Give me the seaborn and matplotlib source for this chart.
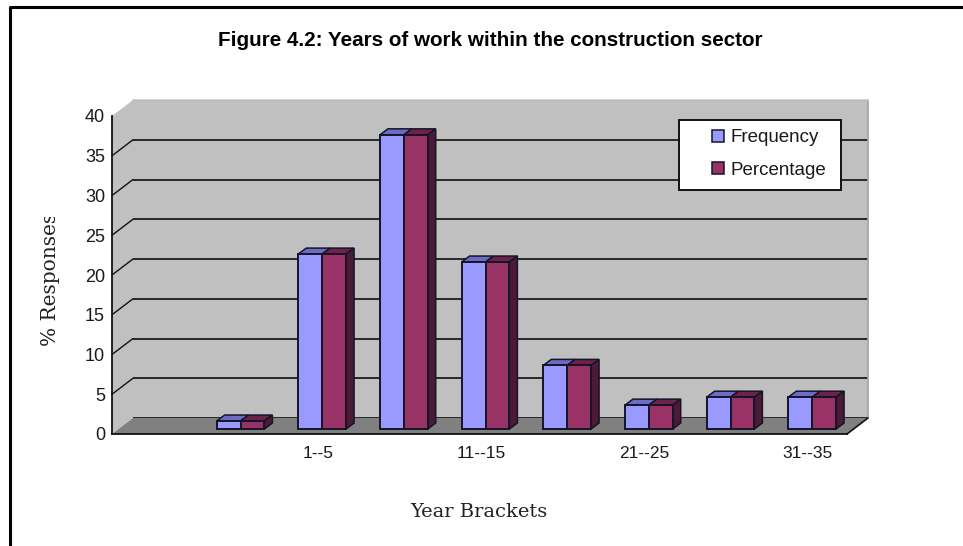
import matplotlib
matplotlib.use('Agg')
import matplotlib.pyplot as plt
from matplotlib.patches import Polygon, Rectangle, Patch
from matplotlib.lines import Line2D
from matplotlib.transforms import Affine2D, IdentityTransform, Bbox
import numpy as np
import pandas as pd
import seaborn as sns

categories = ['0', '<1', '1--5', '6--10', '11--15', '16--20', '21--25', '26--30', '31--35']
tick_labels = ['', '', '1--5', '', '11--15', '', '21--25', '', '31--35']
frequency = [np.nan, 1, 22, 37, 21, 8, 3, 4, 4]
percentage = [np.nan, 1, 22, 37, 21, 8, 3, 4, 4]
y_ticks = [0, 5, 10, 15, 20, 25, 30, 35, 40]

W, H = 963, 546
BLUE, PLUM = '#9999ff', '#993366'
tops = {BLUE: '#6c6cc4', PLUM: '#6e2249'}
SIDE = '#4d1a36'
EDGE = '#14142a'

sns.set_theme(style='white')
plt.rcParams['font.family'] = ['Liberation Sans', 'DejaVu Sans']

df = pd.DataFrame({
    'bracket': categories * 2,
    'value': frequency + percentage,
    'series': ['Frequency'] * 9 + ['Percentage'] * 9,
})

fig = plt.figure(figsize=(W / 100, H / 100), dpi=100)


def box(x0, y0, x1, y1):
    # pixel box, y measured from the top of the image
    return [x0 / W, 1 - y1 / H, (x1 - x0) / W, (y1 - y0) / H]


def px(points):
    return [(x, H - y) for x, y in points]


# page border
fig.add_artist(Line2D([10 / W, 10 / W, 1], [0, 1 - 7 / H, 1 - 7 / H], color='black', lw=2.2))

# side wall and floor
fig.add_artist(Polygon(px([(112, 116), (133, 100), (133, 418), (112, 434)]), transform=IdentityTransform(),
                       fc='#c0c0c0', ec='none', zorder=-1))
fig.add_artist(Polygon(px([(112, 434), (133, 418), (868, 418), (847, 434)]), transform=IdentityTransform(),
                       fc='#808080', ec='none', zorder=-1))

# back wall
wall = fig.add_axes(box(133, 100, 868, 418), facecolor='#c0c0c0', zorder=0)
wall.set_ylim(0, 40)
wall.set_xticks([])
wall.set_yticks(y_ticks)
wall.tick_params(left=False, labelleft=False)
wall.grid(axis='y', color='#1c1c1c', lw=1.3)
wall.set_axisbelow(True)
for s in wall.spines.values():
    s.set_visible(False)
wall.spines['right'].set_visible(True)
wall.spines['right'].set_color('#a6a6a6')
wall.spines['top'].set_visible(True)
wall.spines['top'].set_color('#d0d0d0')

# front axes, bars hang off this one
ax = fig.add_axes(box(112, 116, 847, 434), facecolor='none', zorder=1)
sns.barplot(data=df, x='bracket', y='value', hue='series', order=categories,
            palette=[BLUE, PLUM], width=0.585, gap=0, edgecolor=EDGE, linewidth=1.4,
            saturation=1, legend=False, ax=ax)
ax.set_xlim(-0.5, 8.5)
ax.set_ylim(0, 40)
ax.set_yticks(y_ticks)
ax.set_xticks(np.arange(0, 10) - 0.5)
ax.set_xticklabels([])
# labels sit between the ticks, so they go on minor ticks
ax.set_xticks(np.arange(0, 9) + 0.02, tick_labels, minor=True)
ax.tick_params(axis='x', which='minor', length=0, labelsize=12.5, pad=9, colors='#1a1a1a')
ax.tick_params(axis='x', which='major', length=4, width=1.2, color='#111111')
ax.tick_params(axis='y', length=4, width=1.2, color='#111111', labelsize=13, pad=1, labelcolor='#1a1a1a')
for s in ['top', 'right']:
    ax.spines[s].set_visible(False)
for s in ['left', 'bottom']:
    ax.spines[s].set_color('#111111')
    ax.spines[s].set_linewidth(1.3)
ax.set_xlabel('')
ax.set_ylabel('')

# diagonal ticks on side wall
for v in y_ticks[1:-1]:
    yp = ax.transData.transform((0, v))[1]
    fig.add_artist(Line2D([112 / W, 133 / W], [yp / H, (yp + 16) / H], color='#111111', lw=1))
fig.add_artist(Line2D([847 / W, 868 / W], [1 - 434 / H, 1 - 418 / H], color='#111111', lw=1.2))

# fake the 3D depth around the bars
shift = Affine2D().translate(6, 5)
dx, dy = 8, 6
for cont, col in zip(ax.containers, [BLUE, PLUM]):
    for r in cont:
        if np.isnan(r.get_height()):
            continue
        r.set_transform(ax.transData + shift)
        r.set_clip_on(False)
        r.set_zorder(4)
        (x0, y0), (x1, y1) = shift.transform(ax.transData.transform(
            [(r.get_x(), 0), (r.get_x() + r.get_width(), r.get_height())]))
        top = [(x0, y1), (x1, y1), (x1 + dx, y1 + dy), (x0 + dx, y1 + dy)]
        ax.add_patch(Polygon(top, transform=IdentityTransform(), fc=tops[col], ec=EDGE, lw=1.1,
                             clip_on=False, zorder=3))
        if col == PLUM:
            side = [(x1, y0), (x1, y1), (x1 + dx, y1 + dy), (x1 + dx, y0 + dy)]
            ax.add_patch(Polygon(side, transform=IdentityTransform(), fc=SIDE, ec=EDGE, lw=1.1,
                                 clip_on=False, zorder=3))

# legend box
ax.add_patch(Rectangle((678.5, H - 190), 162.5, 70, transform=IdentityTransform(), fc='white',
                       ec='#111111', lw=1.4, clip_on=False, zorder=5))
handles = [Patch(fc=BLUE, ec=EDGE, lw=1.1), Patch(fc=PLUM, ec=EDGE, lw=1.1)]
leg = ax.legend(handles, ['Frequency', 'Percentage'], loc='center left',
                bbox_to_anchor=(712, H - 154), bbox_transform=IdentityTransform(),
                frameon=False, fontsize=13.5, handlelength=0.62, handleheight=0.62,
                handletextpad=0.35, labelspacing=0.82, borderpad=0, borderaxespad=0)
leg.set_zorder(6)
for t in leg.get_texts():
    t.set_color('#1a1a1a')

# titles
fig.text(490 / W, 1 - 40 / H, 'Figure 4.2: Years of work within the construction sector',
         ha='center', va='center', fontsize=14.9, fontweight='bold', color='black')
fig.text(479 / W, 1 - 512 / H, 'Year Brackets', ha='center', va='center', fontsize=14,
         family='DejaVu Serif', color='#222222')
yl = fig.text(50 / W, 1 - 279 / H, '% Responses', ha='center', va='center', rotation=90,
              fontsize=14.5, family='DejaVu Serif', color='#222222')
# last letter is cut off in the original
yl.set_clip_box(Bbox([[0, 0], [W, H - 217]]))
yl.set_clip_on(True)

fig.savefig('out.png', dpi=100)
